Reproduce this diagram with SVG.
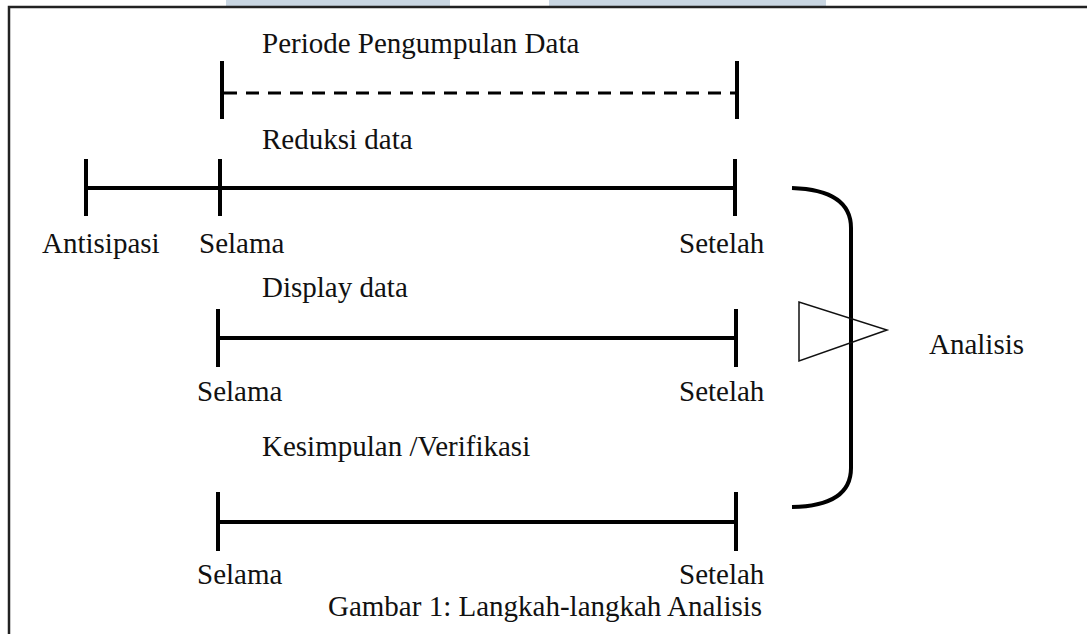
<svg xmlns="http://www.w3.org/2000/svg" width="1087" height="634" viewBox="0 0 1087 634">
<style>
text{font-family:"Liberation Serif","Times New Roman",serif;font-size:29px;fill:#111}
.bar{stroke:#000;stroke-width:4;fill:none}
.tick{stroke:#000;stroke-width:4;fill:none}
.dash{stroke:#000;stroke-width:3;stroke-dasharray:13 9;fill:none}
</style>
<rect x="0" y="0" width="1087" height="634" fill="#fff"/>
<rect x="226" y="0" width="224" height="8" fill="#c9d6e2"/>
<rect x="549" y="0" width="277" height="8" fill="#c9d6e2"/>
<path d="M9 640 V7 H1090" fill="none" stroke="#222" stroke-width="2.5"/>

<g id="periode">
<text x="262" y="53">Periode Pengumpulan Data</text>
<line class="tick" x1="222" y1="61" x2="222" y2="119"/>
<line class="tick" x1="737" y1="61" x2="737" y2="119"/>
</g>
<g id="reduksi">
<text x="262" y="149">Reduksi data</text>
<line class="tick" x1="86" y1="159" x2="86" y2="216"/>
<line class="tick" x1="220" y1="159" x2="220" y2="216"/>
<line class="tick" x1="735" y1="159" x2="735" y2="216"/>
<text x="42" y="253">Antisipasi</text>
<text x="199" y="253">Selama</text>
<text x="679" y="253">Setelah</text>
</g>
<g id="display">
<text x="262" y="297">Display data</text>
<line class="tick" x1="218" y1="309" x2="218" y2="367"/>
<line class="tick" x1="736" y1="309" x2="736" y2="367"/>
<text x="197" y="401">Selama</text>
<text x="679" y="401">Setelah</text>
</g>
<g id="kesimpulan">
<text x="262" y="456">Kesimpulan /Verifikasi</text>
<line class="tick" x1="218" y1="492" x2="218" y2="551"/>
<line class="tick" x1="736" y1="492" x2="736" y2="551"/>
<text x="197" y="584">Selama</text>
<text x="679" y="584">Setelah</text>
</g>
<g id="bracket">
<path class="bar" d="M792 188 Q851 190 851 228 V468 Q851 506 792 507"/>
</g>
<g id="analisis">
<polygon points="799,302 799,361 887,330" fill="none" stroke="#111" stroke-width="1.5"/>
<text x="929" y="354">Analisis</text>
</g>
<g id="connectors">
<line class="dash" x1="224" y1="93" x2="735" y2="93"/>
<line class="bar" x1="86" y1="188" x2="735" y2="188"/>
<line class="bar" x1="218" y1="338" x2="736" y2="338"/>
<line class="bar" x1="218" y1="522" x2="736" y2="522"/>
</g>
<text x="328" y="616">Gambar 1: Langkah-langkah Analisis</text>
</svg>
